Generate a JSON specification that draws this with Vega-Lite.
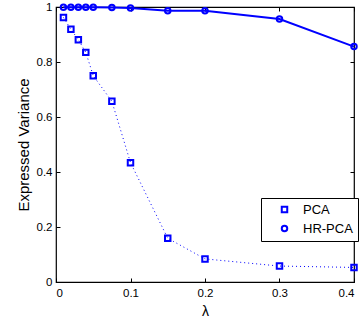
{
  "$schema": "https://vega.github.io/schema/vega-lite/v6.json",
  "width": 298,
  "height": 275,
  "autosize": {"type": "none"},
  "padding": {"left": 56, "top": 7, "right": 8, "bottom": 38},
  "background": "white",
  "config": {
    "font": "Liberation Sans",
    "view": {"stroke": "black", "strokeWidth": 1.2},
    "axis": {"grid": false, "domain": false, "tickColor": "black", "tickWidth": 1, "labelColor": "black", "labelFontSize": 11.5, "titleFontSize": 13, "titleFontWeight": "normal", "titleColor": "black", "tickSize": 4, "offset": -4, "labelFont": "Liberation Sans", "titleFont": "Liberation Sans"}
  },
  "data": {"values": [
    {"lambda": 0.01, "v": 0.962, "series": "PCA"},
    {"lambda": 0.02, "v": 0.919, "series": "PCA"},
    {"lambda": 0.03, "v": 0.881, "series": "PCA"},
    {"lambda": 0.04, "v": 0.835, "series": "PCA"},
    {"lambda": 0.05, "v": 0.750, "series": "PCA"},
    {"lambda": 0.075, "v": 0.657, "series": "PCA"},
    {"lambda": 0.1, "v": 0.434, "series": "PCA"},
    {"lambda": 0.15, "v": 0.159, "series": "PCA"},
    {"lambda": 0.2, "v": 0.084, "series": "PCA"},
    {"lambda": 0.3, "v": 0.058, "series": "PCA"},
    {"lambda": 0.4, "v": 0.053, "series": "PCA"},
    {"lambda": 0.01, "v": 0.999, "series": "HR-PCA"},
    {"lambda": 0.02, "v": 0.999, "series": "HR-PCA"},
    {"lambda": 0.03, "v": 0.999, "series": "HR-PCA"},
    {"lambda": 0.04, "v": 0.999, "series": "HR-PCA"},
    {"lambda": 0.05, "v": 0.999, "series": "HR-PCA"},
    {"lambda": 0.075, "v": 0.998, "series": "HR-PCA"},
    {"lambda": 0.1, "v": 0.996, "series": "HR-PCA"},
    {"lambda": 0.15, "v": 0.986, "series": "HR-PCA"},
    {"lambda": 0.2, "v": 0.986, "series": "HR-PCA"},
    {"lambda": 0.3, "v": 0.956, "series": "HR-PCA"},
    {"lambda": 0.4, "v": 0.856, "series": "HR-PCA"}
  ]},
  "layer": [
    {
      "transform": [{"filter": "datum.series === 'PCA'"}],
      "mark": {"type": "line", "color": "#0000ff", "strokeWidth": 1, "strokeDash": [1, 3], "clip": false},
      "encoding": {
        "x": {"field": "lambda", "type": "quantitative", "scale": {"domain": [0, 0.4]}, "axis": {"title": "λ", "values": [0, 0.1, 0.2, 0.3, 0.4], "format": "~g", "labelPadding": 5, "titlePadding": 6, "titleFontSize": 14}},
        "y": {"field": "v", "type": "quantitative", "scale": {"domain": [0, 1]}, "axis": {"title": "Expressed Variance", "values": [0, 0.2, 0.4, 0.6, 0.8, 1], "format": "~g", "labelPadding": 4, "titlePadding": 5, "titleFontSize": 15}}
      }
    },
    {
      "mark": {"type": "point", "opacity": 0},
      "encoding": {
        "x": {"field": "lambda", "type": "quantitative", "axis": {"orient": "top", "labels": false, "title": null, "values": [0, 0.1, 0.2, 0.3, 0.4]}},
        "y": {"field": "v", "type": "quantitative", "axis": {"orient": "right", "labels": false, "title": null, "values": [0, 0.2, 0.4, 0.6, 0.8, 1]}}
      }
    },
    {
      "transform": [{"filter": "datum.series === 'HR-PCA'"}],
      "mark": {"type": "line", "color": "#0000ff", "strokeWidth": 2, "clip": false},
      "encoding": {
        "x": {"field": "lambda", "type": "quantitative", "axis": null},
        "y": {"field": "v", "type": "quantitative", "axis": null}
      }
    },
    {
      "mark": {"type": "point", "filled": false, "color": "#0000ff", "opacity": 1, "strokeWidth": 2, "size": 30, "clip": false},
      "encoding": {
        "x": {"field": "lambda", "type": "quantitative", "axis": null},
        "y": {"field": "v", "type": "quantitative", "axis": null},
        "shape": {"field": "series", "type": "nominal", "scale": {"domain": ["PCA", "HR-PCA"], "range": ["square", "circle"]},
          "legend": {"title": null, "orient": "none", "legendX": 205, "legendY": 191, "strokeColor": "black", "fillColor": "white", "padding": 5, "labelFontSize": 13, "labelColor": "black", "symbolStrokeColor": "#0000ff", "symbolFillColor": "transparent", "symbolSize": 30, "symbolStrokeWidth": 2, "rowPadding": 4, "symbolOffset": 12, "labelOffset": 12, "labelFont": "Liberation Sans"}}
      }
    }
  ],
  "resolve": {"axis": {"x": "independent", "y": "independent"}}
}
